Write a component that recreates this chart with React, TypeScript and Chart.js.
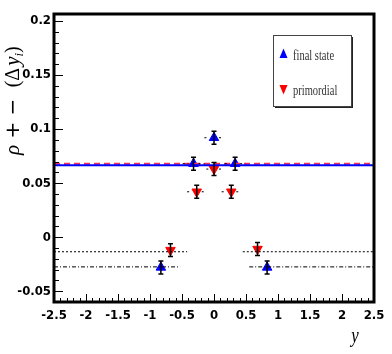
import React, { useEffect, useRef } from "react";
import { Chart, registerables } from "chart.js";
Chart.register(...registerables);

// ---- data ----
const finalX = [-0.83, -0.32, 0, 0.33, 0.83];
const finalY = [-0.028, 0.068, 0.092, 0.068, -0.028];
const finalYErr = [0.006, 0.006, 0.006, 0.006, 0.006];
const finalXErr = [0, 0.17, 0.15, 0.16, 0];

const primX = [-0.68, -0.27, 0, 0.27, 0.68];
const primY = [-0.012, 0.042, 0.063, 0.042, -0.011];
const primYErr = [0.006, 0.006, 0.006, 0.006, 0.006];
const primXErr = [0, 0.15, 0.12, 0.15, 0];

const blueLevel = 0.0665;
const redLevel = 0.068;
const dashLevel = -0.0135;
const dashSegs = [[-2.5, -0.42], [0.45, 2.5]];
const dashDotLevel = -0.0275;
const dashDotSegs = [[-2.5, -0.53], [0.55, 2.5]];

const xTicks = [-2.5, -2, -1.5, -1, -0.5, 0, 0.5, 1, 1.5, 2, 2.5];
const yTicks = [-0.05, 0, 0.05, 0.1, 0.15, 0.2];
const xRange = [-2.5, 2.5];
const yRange = [-0.06, 0.2065];

const legendLabels = ["final state", "primordial"];
const blue = "#0000ff";
const red = "#ff0000";

const tickFont = { family: '"Liberation Sans Narrow", "DejaVu Sans Condensed", Arial, sans-serif', size: 13, weight: "bold" as const };

const framePlugin = {
  id: "rootFrame",
  afterDatasetsDraw(chart: any) {
    const { ctx, chartArea: a, scales } = chart;
    const xs = scales.x, ys = scales.y;
    ctx.save();
    const drawErr = (X: number[], Y: number[], XE: number[], YE: number[]) => {
      for (let i = 0; i < X.length; i++) {
        const px = xs.getPixelForValue(X[i]);
        const py = ys.getPixelForValue(Y[i]);
        const t = ys.getPixelForValue(Y[i] + YE[i]);
        const b = ys.getPixelForValue(Y[i] - YE[i]);
        ctx.strokeStyle = "#000";
        ctx.lineWidth = 1.5;
        ctx.setLineDash([]);
        ctx.beginPath();
        ctx.moveTo(px, t); ctx.lineTo(px, b);
        ctx.moveTo(px - 2.5, t); ctx.lineTo(px + 2.5, t);
        ctx.moveTo(px - 2.5, b); ctx.lineTo(px + 2.5, b);
        ctx.stroke();
        if (XE[i] > 0) {
          const l = xs.getPixelForValue(X[i] - XE[i]);
          const r = xs.getPixelForValue(X[i] + XE[i]);
          ctx.lineWidth = 1;
          ctx.setLineDash([2, 3]);
          ctx.beginPath();
          ctx.moveTo(l, py); ctx.lineTo(px - 5, py);
          ctx.moveTo(px + 5, py); ctx.lineTo(r, py);
          ctx.stroke();
        }
      }
    };
    drawErr(finalX, finalY, finalXErr, finalYErr);
    drawErr(primX, primY, primXErr, primYErr);
    ctx.setLineDash([]);
    ctx.strokeStyle = "#000";
    ctx.lineWidth = 1;
    ctx.beginPath();
    for (let v = -50; v <= 200; v += 10) {
      const val = v / 1000;
      if (val < yRange[0] || val > yRange[1]) continue;
      const y = Math.round(ys.getPixelForValue(val)) + 0.5;
      const major = v % 50 === 0;
      ctx.moveTo(a.left, y); ctx.lineTo(a.left + (major ? 9 : 5), y);
    }
    for (let v = -25; v <= 25; v += 1) {
      const x = Math.round(xs.getPixelForValue(v / 10)) + 0.5;
      const major = v % 5 === 0;
      ctx.moveTo(x, a.bottom); ctx.lineTo(x, a.bottom - (major ? 8 : 4));
    }
    ctx.stroke();
    ctx.lineWidth = 3;
    ctx.strokeRect(a.left, a.top, a.right - a.left, a.bottom - a.top);
    ctx.restore();
  },
  afterDraw(chart: any) {
    const { ctx } = chart;
    ctx.save();
    // legend
    const lx = 273, ly = 35, lw = 78, lh = 71;
    ctx.fillStyle = "#222";
    ctx.fillRect(lx + 2, ly + 2, lw, lh);
    ctx.fillStyle = "#fff";
    ctx.fillRect(lx, ly, lw, lh);
    ctx.strokeStyle = "#444";
    ctx.lineWidth = 1;
    ctx.strokeRect(lx + 0.5, ly + 0.5, lw, lh);
    const tri = (x: number, y: number, up: boolean, c: string) => {
      ctx.fillStyle = c;
      ctx.beginPath();
      if (up) { ctx.moveTo(x, y - 5.5); ctx.lineTo(x + 4, y + 4); ctx.lineTo(x - 4, y + 4); }
      else { ctx.moveTo(x, y + 5.5); ctx.lineTo(x + 4, y - 4); ctx.lineTo(x - 4, y - 4); }
      ctx.closePath();
      ctx.fill();
    };
    tri(283.5, 54, true, blue);
    tri(283.5, 89, false, red);
    ctx.fillStyle = "#333";
    ctx.font = '15px "Liberation Serif", serif';
    ctx.textBaseline = "middle";
    ctx.textAlign = "left";
    ctx.save(); ctx.translate(293, 56); ctx.scale(0.7, 1); ctx.fillText(legendLabels[0], 0, 0); ctx.restore();
    ctx.save(); ctx.translate(293, 91); ctx.scale(0.7, 1); ctx.fillText(legendLabels[1], 0, 0); ctx.restore();
    // y axis title
    ctx.fillStyle = "#000";
    ctx.save();
    ctx.translate(19, 155);
    ctx.rotate(-Math.PI / 2);
    ctx.textAlign = "left";
    ctx.textBaseline = "alphabetic";
    const parts: [string, string, number][] = [
      ["ρ", 'italic 21px "Liberation Serif", serif', 0],
      [" + − ", '20px "DejaVu Sans", sans-serif', 0],
      [" (", '20px "Liberation Serif", serif', 0],
      ["Δ", '20px "Liberation Serif", serif', 0],
      ["y", 'italic 21px "Liberation Serif", serif', 0],
      ["i", 'italic 13px "Liberation Serif", serif', 4],
      [")", '20px "Liberation Serif", serif', 0],
    ];
    let cx = 0;
    for (const [t, f, dy] of parts) {
      ctx.font = f;
      ctx.fillText(t, cx, dy);
      cx += ctx.measureText(t).width + (t === "Δ" ? 2 : 0);
    }
    ctx.restore();
    ctx.font = 'italic 21px "Liberation Serif", serif';
    ctx.textAlign = "center";
    ctx.textBaseline = "alphabetic";
    ctx.save(); ctx.translate(355, 342); ctx.scale(0.8, 1); ctx.fillText("y", 0, 0); ctx.restore();
    ctx.restore();
  },
};

export default function App() {
  const ref = useRef<HTMLCanvasElement>(null);
  useEffect(() => {
    const lineDs = (segs: number[][], level: number, color: string, dash: number[], width: number) =>
      segs.map((s) => ({
        type: "scatter" as const,
        data: [{ x: s[0], y: level }, { x: s[1], y: level }],
        showLine: true,
        borderColor: color,
        borderWidth: width,
        borderDash: dash,
        pointRadius: 0,
      }));
    const chart = new Chart(ref.current!, {
      type: "scatter",
      data: {
        datasets: [
          ...lineDs(dashSegs, dashLevel, "#000", [2, 2], 1),
          ...lineDs(dashDotSegs, dashDotLevel, "#000", [4, 2, 1, 2], 1),
          ...lineDs([xRange], blueLevel, blue, [], 2),
          ...lineDs([xRange], redLevel, "#f0305a", [6, 4], 2),
          {
            label: legendLabels[0],
            data: finalX.map((x, i) => ({ x, y: finalY[i] })),
            pointStyle: "triangle",
            pointRadius: 5.5,
            pointBackgroundColor: blue,
            pointBorderColor: blue,
            pointBorderWidth: 1,
          },
          {
            label: legendLabels[1],
            data: primX.map((x, i) => ({ x, y: primY[i] })),
            pointStyle: "triangle",
            rotation: 180,
            pointRadius: 5.5,
            pointBackgroundColor: red,
            pointBorderColor: red,
            pointBorderWidth: 1,
          },
        ] as any,
      },
      options: {
        animation: false,
        responsive: false,
        events: [],
        layout: { padding: { left: 0, right: 18, top: 14, bottom: 0 } },
        plugins: { legend: { display: false }, tooltip: { enabled: false } },
        scales: {
          x: {
            type: "linear",
            min: xRange[0],
            max: xRange[1],
            grid: { display: false, drawTicks: false },
            border: { display: false },
            afterBuildTicks: (s: any) => { s.ticks = xTicks.map((v) => ({ value: v })); },
            afterFit: (s: any) => { s.height = 52; },
            ticks: { color: "#000", font: tickFont, padding: 6, maxRotation: 0, autoSkip: false, callback: (v: any) => String(v) },
          },
          y: {
            type: "linear",
            min: yRange[0],
            max: yRange[1],
            grid: { display: false, drawTicks: false },
            border: { display: false },
            afterBuildTicks: (s: any) => { s.ticks = yTicks.map((v) => ({ value: v })); },
            afterFit: (s: any) => { s.width = 54; },
            ticks: { color: "#000", font: tickFont, padding: 3, autoSkip: false, callback: (v: any) => String(+Number(v).toFixed(2)) },
          },
        },
      },
      plugins: [framePlugin],
    } as any);
    return () => chart.destroy();
  }, []);
  return (
    <div style={{ position: "fixed", left: 0, top: 0, width: 392, height: 354, background: "#fff" }}>
      <canvas ref={ref} width={392} height={354} style={{ width: 392, height: 354 }} />
    </div>
  );
}
